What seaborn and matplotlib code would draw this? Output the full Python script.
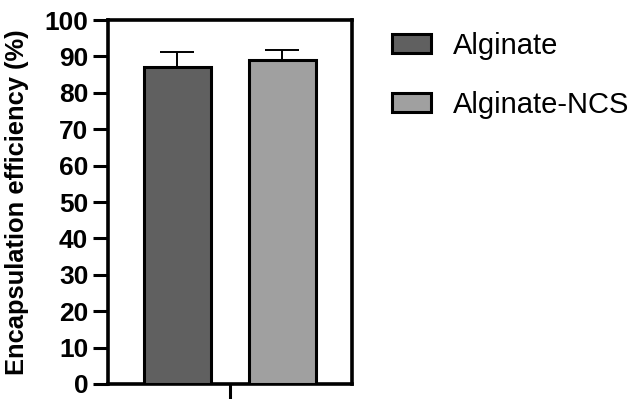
import seaborn as sns
import pandas as pd
import matplotlib.pyplot as plt

# values
materials = ["Alginate", "Alginate-NCS"]
efficiency = [87.2, 89.0]
sd = [4.1, 2.7]
bar_colors = ["#606060", "#a0a0a0"]
y_ticks = list(range(0, 101, 10))

data = pd.DataFrame({"group": [""] * len(materials),
                     "material": materials,
                     "efficiency": efficiency})

sns.set_style("ticks")
plt.rcParams["font.family"] = ["Liberation Sans", "DejaVu Sans"]
plt.rcParams["text.color"] = "black"
plt.rcParams["axes.labelcolor"] = "black"
plt.rcParams["xtick.color"] = "black"
plt.rcParams["ytick.color"] = "black"

fig = plt.figure(figsize=(6.34, 3.99), dpi=100)
ax = fig.add_axes([0.170, 0.0376, 0.385, 0.912])

sns.barplot(data=data, x="group", y="efficiency", hue="material",
            palette=bar_colors, edgecolor="black", linewidth=2.2,
            gap=0.36, errorbar=None, ax=ax, zorder=3)

# upward-only error bars on top of each bar
for patch, err in zip(ax.patches[:len(materials)], sd):
    xc = patch.get_x() + patch.get_width() / 2
    top = patch.get_height()
    ax.errorbar(xc, top, yerr=[[0], [err]], fmt="none", ecolor="black",
                elinewidth=1.4, capsize=12, capthick=1.4, zorder=2)

ax.set_xlim(-0.465, 0.465)
ax.set_ylim(0, 100)
ax.set_yticks(y_ticks)
ax.set_xlabel("")
ax.set_ylabel("Encapsulation efficiency (%)", fontsize=18.4,
              fontweight="bold", labelpad=11)
ax.tick_params(axis="y", labelsize=19, width=2.2, length=11, pad=3)
ax.tick_params(axis="x", width=2.2, length=15, labelbottom=False)
for lbl in ax.get_yticklabels():
    lbl.set_fontweight("bold")
for side in ["left", "right", "top", "bottom"]:
    ax.spines[side].set_visible(True)
    ax.spines[side].set_linewidth(2.6)
    ax.spines[side].set_color("black")

handles, labels = ax.get_legend_handles_labels()
ax.legend_.remove()
fig.legend(handles, labels, loc="upper left", bbox_to_anchor=(0.618, 0.92),
           frameon=False, fontsize=21, handlelength=1.35, handleheight=0.62,
           handletextpad=0.75, labelspacing=1.05, borderpad=0, borderaxespad=0)

fig.savefig("out.png", dpi=100)
